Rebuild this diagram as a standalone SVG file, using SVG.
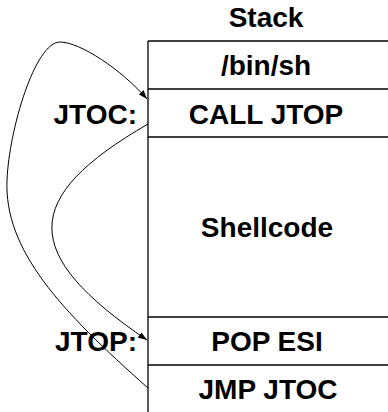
<svg xmlns="http://www.w3.org/2000/svg" width="388" height="412" viewBox="0 0 388 412">
<style>
text{font-family:"Liberation Sans",Arial,sans-serif;font-weight:bold;font-size:28px;fill:#000}
.c{text-anchor:middle}
.r{text-anchor:end}
.box{stroke:#000;stroke-width:1.3;fill:none}
.con{stroke:#000;stroke-width:1;fill:none;marker-end:url(#ah)}
</style>
<defs>
<marker id="ah" markerUnits="userSpaceOnUse" markerWidth="10" markerHeight="8" refX="9" refY="4" orient="auto">
<path d="M0,0.8 L9,4 L0,7.2 Z" fill="#000"/>
</marker>
</defs>
<rect width="388" height="412" fill="#fff"/>
<g id="title"><text class="c" x="266" y="27">Stack</text></g>
<g id="stack">
<line class="box" x1="148" y1="41" x2="148" y2="412"/>
</g>
<g id="binsh"><line class="box" x1="148" y1="41" x2="388" y2="41"/><text class="c" x="266" y="75">/bin/sh</text></g>
<g id="calljtop"><line class="box" x1="148" y1="89" x2="388" y2="89"/><text class="c" x="266" y="124">CALL JTOP</text></g>
<g id="shellcode"><line class="box" x1="148" y1="137" x2="388" y2="137"/><text class="c" x="267" y="237">Shellcode</text></g>
<g id="popesi"><line class="box" x1="148" y1="317" x2="388" y2="317"/><text class="c" x="267" y="351">POP ESI</text></g>
<g id="jmpjtoc"><line class="box" x1="148" y1="365" x2="388" y2="365"/><text class="c" x="268" y="399">JMP JTOC</text></g>
<g id="jtoc-label"><text class="r" x="137" y="124">JTOC:</text></g>
<g id="jtop-label"><text class="r" x="137" y="351">JTOP:</text></g>
<g id="connectors">
<path class="con" d="M148,388 C60,310 4,250 7,180 C9,130 35,42 60,42 C80,42 122,70 147,99"/>
<path class="con" d="M148,124 C20,198 20,254 147,340"/>
</g>
</svg>
